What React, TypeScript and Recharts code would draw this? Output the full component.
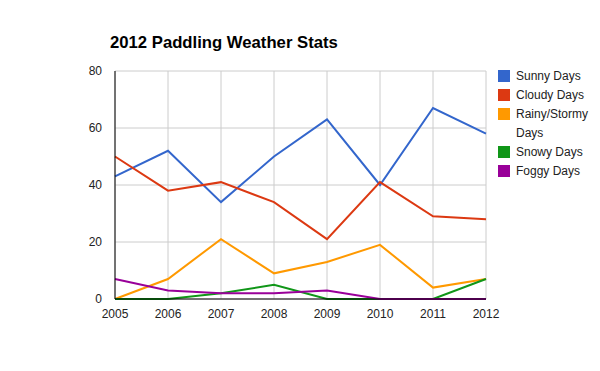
import { LineChart, Line, XAxis, YAxis, CartesianGrid } from "recharts";

const years = ["2005", "2006", "2007", "2008", "2009", "2010", "2011", "2012"];
const sunny = [43, 52, 34, 50, 63, 40, 67, 58];
const cloudy = [50, 38, 41, 34, 21, 41, 29, 28];
const rainy = [0, 7, 21, 9, 13, 19, 4, 7];
const snowy = [0, 0, 2, 5, 0, 0, 0, 7];
const foggy = [7, 3, 2, 2, 3, 0, 0, 0];
const yTicks = [0, 20, 40, 60, 80];

const series = [
  { key: "sunny", name: "Sunny Days", color: "#3366cc" },
  { key: "cloudy", name: "Cloudy Days", color: "#dc3912" },
  { key: "rainy", name: "Rainy/Stormy Days", color: "#ff9900" },
  { key: "snowy", name: "Snowy Days", color: "#109618" },
  { key: "foggy", name: "Foggy Days", color: "#990099" },
];

const data = years.map((year, i) => ({
  year,
  sunny: sunny[i],
  cloudy: cloudy[i],
  rainy: rainy[i],
  snowy: snowy[i],
  foggy: foggy[i],
}));

const font = "Arial, 'Liberation Sans', sans-serif";

const LegendBox = () => (
  <div
    style={{
      position: "absolute",
      left: 498,
      top: 67,
      fontFamily: font,
      fontSize: 12,
      color: "#222",
    }}
  >
    {series.map((s) => (
      <div key={s.key} style={{ display: "flex", alignItems: "flex-start" }}>
        <div style={{ width: 12, height: 12, background: s.color, marginRight: 6, marginTop: 3, flexShrink: 0 }} />
        <div style={{ width: 82, lineHeight: "19px" }}>{s.name}</div>
      </div>
    ))}
  </div>
);

const App = () => {
  return (
    <div style={{ position: "absolute", left: 0, top: 0, width: 600, height: 371, background: "#fff" }}>
      <div
        style={{
          position: "absolute",
          left: 110,
          top: 33,
          fontFamily: font,
          fontWeight: "bold",
          fontSize: 16.7,
          color: "#000",
        }}
      >
        2012 Paddling Weather Stats
      </div>
      <LineChart width={600} height={371} data={data} margin={{ top: 71, right: 114, bottom: 42, left: 0 }}>
        <CartesianGrid stroke="#cccccc" />
        <XAxis
          dataKey="year"
          height={30}
          tickLine={false}
          axisLine={{ stroke: "#000" }}
          tickMargin={4}
          tick={{ fill: "#222", fontSize: 12, fontFamily: font }}
        />
        <YAxis
          width={115}
          domain={[0, 80]}
          ticks={yTicks}
          tickLine={false}
          axisLine={{ stroke: "#000" }}
          tickMargin={7}
          tick={{ fill: "#222", fontSize: 12, fontFamily: font }}
        />
        {series.map((s) => (
          <Line
            key={s.key}
            type="linear"
            dataKey={s.key}
            name={s.name}
            stroke={s.color}
            strokeWidth={2}
            dot={false}
            activeDot={false}
            isAnimationActive={false}
          />
        ))}
      </LineChart>
      <LegendBox />
    </div>
  );
};

export default App;
